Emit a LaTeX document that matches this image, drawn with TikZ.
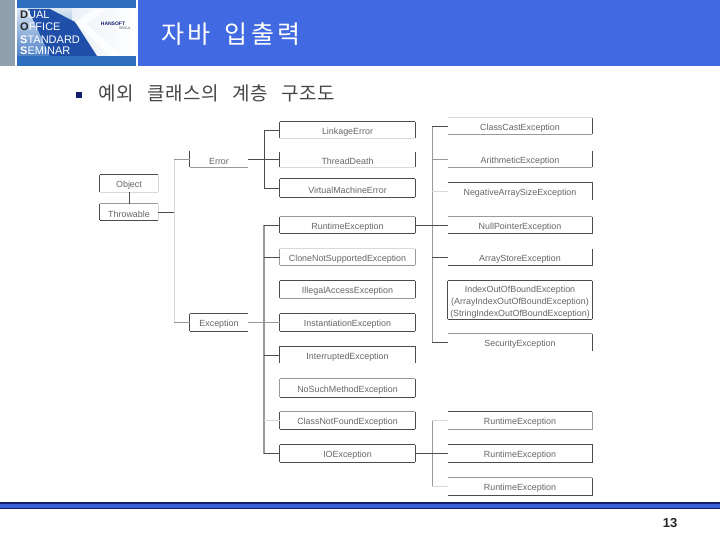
\documentclass[tikz,border=0pt]{standalone}
\usepackage{fontspec}
\setmainfont{Liberation Sans}
\newfontfamily\krfont{Noto Sans CJK KR}
\definecolor{hdrblue}{HTML}{4169E1}
\definecolor{hdrgray}{HTML}{8FA0AC}
\definecolor{logoblue}{HTML}{2F6FBF}
\definecolor{logodark}{HTML}{1F4FA8}
\definecolor{logomid}{HTML}{4F82C6}
\definecolor{logopale}{HTML}{D9E5F2}
\definecolor{navy}{HTML}{14206E}
\definecolor{barblue}{HTML}{3A62D8}
\definecolor{lg}{gray}{0.85}
\definecolor{mg}{gray}{0.6}
\definecolor{dg}{gray}{0.3}
\newcommand{\bx}[6]{%
 \node[inner sep=0pt,minimum width={(#4-#2)*1pt},minimum height={(#5-#3)*1pt},label={[lbl]center:{#6}}] (#1) at ({(#2+#4)/2},{(#3+#5)/2}) {};}
\newcommand{\bxe}[5]{%
 \draw[edge,draw=#2] (#1.north west) -- (#1.north east);
 \draw[edge,draw=#3] (#1.north east) -- (#1.south east);
 \draw[edge,draw=#4] (#1.south east) -- (#1.south west);
 \draw[edge,draw=#5] (#1.south west) -- (#1.north west);}
\tikzset{lbl/.style={inner sep=0pt,yshift=-2pt,font=\fontsize{8.9}{12}\selectfont,text=black!60,align=center},
 edge/.style={line width=1pt},
 conn/.style={line width=.9pt,draw=dg},
 connm/.style={line width=.9pt,draw=mg},
 connl/.style={line width=.8pt,draw=lg},
 trunk/.style={line width=1.3pt,draw=mg},
 logotxt/.style={inner sep=0pt,anchor=west,font=\fontsize{11}{12}\selectfont,text=white}}
\begin{document}
\begin{tikzpicture}[x=1pt,y=-1pt]
\useasboundingbox (0,0) rectangle (720,540);
\fill[white] (0,0) rectangle (720,540);
% header
\fill[hdrgray] (0,0) rectangle (15,66);
\fill[hdrblue] (138,0) rectangle (720,66);
% logo
\fill[logoblue] (17,0) rectangle (136,66);
\shade[left color=logopale,right color=white] (17,9) rectangle (136,56);
\shade[top color=logopale,bottom color=logomid] (17,9) rectangle (72,56);
\fill[logodark] (28,9) -- (50,9) -- (75,22) -- (97,56) -- (50,56) -- cycle;
\fill[white,opacity=.85] (95,9) -- (107,9) -- (86,24) -- (122,56) -- (110,56) -- (75,22) -- cycle;
\node[logotxt] (l1) at (20,15) {\textcolor{black!85}{\bfseries D}UAL};
\node[logotxt] (l2) at (20,27) {\textcolor{black!85}{\bfseries O}FFICE};
\node[logotxt] (l3) at (20,39.5) {{\bfseries S}TANDARD};
\node[logotxt] (l4) at (20,51) {{\bfseries S}EMINAR};
\node[inner sep=0pt,font=\fontsize{5}{5}\selectfont\bfseries,text=navy] (l5) at (113,24) {HANSOFT};
\node[inner sep=0pt,font=\fontsize{3.5}{4}\selectfont,text=black!70] (l6) at (125,28) {SEOUL};
% title
\node[inner sep=0pt,text=white,font=\krfont\fontsize{25}{28}\selectfont\addfontfeature{LetterSpace=13}] (title) at (231,34) {자바\hspace{5pt} 입출력};
\fill[navy] (76,92) rectangle (82,98);
\node[inner sep=0pt,anchor=west,text=black!72,font=\krfont\fontsize{19}{22}\selectfont\addfontfeature{LetterSpace=2.6}] (sub) at (98,93.5) {예외\hspace{9pt} 클래스의\hspace{9pt} 계층\hspace{9pt} 구조도};
% footer
\fill[navy] (0,502) rectangle (720,509);
\fill[barblue] (0,503.5) rectangle (720,507.5);
\node[inner sep=0pt,font=\bfseries\fontsize{13}{13}\selectfont,text=black!85] (page) at (670,523) {13};
% left boxes
\bx{obj}{100}{175}{158}{192}{Object}
\bx{thr}{100}{204}{158}{220}{Throwable}
\bx{err}{190}{151}{248}{167}{Error}
\bx{exc}{190}{314}{248}{331}{Exception}
\bxe{obj}{dg}{lg}{lg}{dg}
\bxe{thr}{mg}{lg}{dg}{dg}
% middle boxes
\bx{lnk}{280}{122}{415}{138}{LinkageError}
\bx{thd}{280}{152}{415}{167}{ThreadDeath}
\bx{vme}{280}{179}{415}{197}{VirtualMachineError}
\bx{rte}{280}{217}{415}{233}{RuntimeException}
\bx{cns}{280}{249}{415}{265}{CloneNotSupportedException}
\bx{iae}{280}{281}{415}{298}{IllegalAccessException}
\bx{ins}{280}{314}{415}{331}{InstantiationException}
\bx{int}{280}{347}{415}{363}{InterruptedException}
\bx{nsm}{280}{379}{415}{397}{NoSuchMethodException}
\bx{cnf}{280}{412}{415}{429}{ClassNotFoundException}
\bx{ioe}{280}{445}{415}{462}{IOException}
% right boxes
\bx{cce}{448}{118}{592}{134}{ClassCastException}
\bx{ari}{448}{151}{592}{167}{ArithmeticException}
\bx{nas}{448}{183}{592}{200}{NegativeArraySizeException}
\bx{npe}{448}{217}{592}{233}{NullPointerException}
\bx{ase}{448}{249}{592}{265}{ArrayStoreException}
\bx{iob}{448}{281}{592}{319}{IndexOutOfBoundException\\(ArrayIndexOutOfBoundException)\\(StringIndexOutOfBoundException)}
\bx{sec}{448}{334}{592}{351}{SecurityException}
\bx{rt1}{448}{412}{592}{429}{RuntimeException}
\bx{rt2}{448}{445}{592}{462}{RuntimeException}
\bx{rt3}{448}{478}{592}{495}{RuntimeException}
% partial edges
\draw[edge,draw=mg] (err.south west) -- (err.south east);
\draw[edge,draw=dg] (err.south west) -- (err.north west);
\draw[edge,draw=dg] (exc.north west) -- (exc.north east);
\draw[edge,draw=dg] (exc.south west) -- (exc.south east);
\draw[edge,draw=dg] (exc.south west) -- (exc.north west);
\bxe{lnk}{dg}{dg}{lg}{dg}
\draw[edge,draw=dg] (thd.north east) -- (thd.south east);
\draw[edge,draw=lg] (thd.south east) -- (thd.south west);
\draw[edge,draw=dg] (thd.south west) -- (thd.north west);
\bxe{vme}{dg}{dg}{dg}{dg}
\bxe{rte}{mg}{dg}{dg}{dg}
\bxe{cns}{lg}{mg}{mg}{mg}
\bxe{iae}{dg}{dg}{mg}{dg}
\bxe{ins}{dg}{dg}{dg}{dg}
\draw[edge,draw=dg] (int.south west) -- (int.north west) -- (int.north east) -- (int.south east);
\bxe{nsm}{mg}{dg}{dg}{mg}
\bxe{cnf}{mg}{dg}{dg}{dg}
\bxe{ioe}{dg}{dg}{dg}{dg}
\draw[edge,draw=lg] (cce.north west) -- (cce.north east);
\draw[edge,draw=dg] (cce.north east) -- (cce.south east);
\draw[edge,draw=mg] (cce.south east) -- (cce.south west);
\draw[edge,draw=dg] (ari.north east) -- (ari.south east);
\draw[edge,draw=mg] (ari.south east) -- (ari.south west);
\draw[edge,draw=dg] (nas.north west) -- (nas.north east) -- (nas.south east);
\draw[edge,draw=mg] (npe.north west) -- (npe.north east);
\draw[edge,draw=dg] (npe.north east) -- (npe.south east) -- (npe.south west);
\draw[edge,draw=dg] (ase.north east) -- (ase.south east) -- (ase.south west);
\bxe{iob}{dg}{dg}{dg}{dg}
\draw[edge,draw=mg] (sec.north west) -- (sec.north east);
\draw[edge,draw=dg] (sec.north east) -- (sec.south east);
\draw[edge,draw=dg] (rt1.north west) -- (rt1.north east);
\draw[edge,draw=mg] (rt1.north east) -- (rt1.south east) -- (rt1.south west);
\draw[edge,draw=dg] (rt2.north west) -- (rt2.north east) -- (rt2.south east) -- (rt2.south west);
\draw[edge,draw=mg] (rt3.north west) -- (rt3.north east);
\draw[edge,draw=dg] (rt3.north east) -- (rt3.south east) -- (rt3.south west);
% connectors
\coordinate (t0) at (174,0);
\coordinate (t1) at (264,0);
\coordinate (t2) at (432,0);
\draw[conn] (obj.south) -- (thr.north);
\draw[conn] (thr.east) -- (t0 |- thr.east);
\draw[connl] (t0 |- err.west) -- (t0 |- exc.west);
\draw[connm] (t0 |- err.west) -- (err.west);
\draw[connm] (t0 |- exc.west) -- (exc.west);
\draw[conn] (err.east) -- (t1 |- err.east);
\draw[conn] (t1 |- lnk.west) -- (t1 |- vme.west);
\draw[conn] (t1 |- lnk.west) -- (lnk.west);
\draw[conn] (t1 |- thd.west) -- (thd.west);
\draw[conn] (t1 |- vme.west) -- (vme.west);
\draw[trunk] (t1 |- rte.west) -- (t1 |- ioe.west);
\draw[conn] (t1 |- rte.west) -- (rte.west);
\draw[conn] (t1 |- cns.west) -- (cns.west);
\draw[connm] (exc.east) -- (ins.west);
\draw[conn] (t1 |- int.west) -- (int.west);
\draw[connl] (t1 |- cnf.west) -- (cnf.west);
\draw[conn] (t1 |- ioe.west) -- (ioe.west);
\draw[connm] (t2 |- cce.west) -- (t2 |- sec.west);
\draw[conn] (t2 |- cce.west) -- (cce.west);
\draw[connm] (t2 |- ari.west) -- (ari.west);
\draw[connl] (t2 |- nas.west) -- (nas.west);
\draw[conn] (rte.east) -- (npe.west);
\draw[conn] (t2 |- ase.west) -- (ase.west);
\draw[conn] (t2 |- sec.west) -- (sec.west);
\draw[connm] (t2 |- rt1.west) -- (t2 |- rt3.west);
\draw[connl] (t2 |- rt1.west) -- (rt1.west);
\draw[conn] (ioe.east) -- (rt2.west);
\draw[connl] (t2 |- rt3.west) -- (rt3.west);
\end{tikzpicture}
\end{document}
